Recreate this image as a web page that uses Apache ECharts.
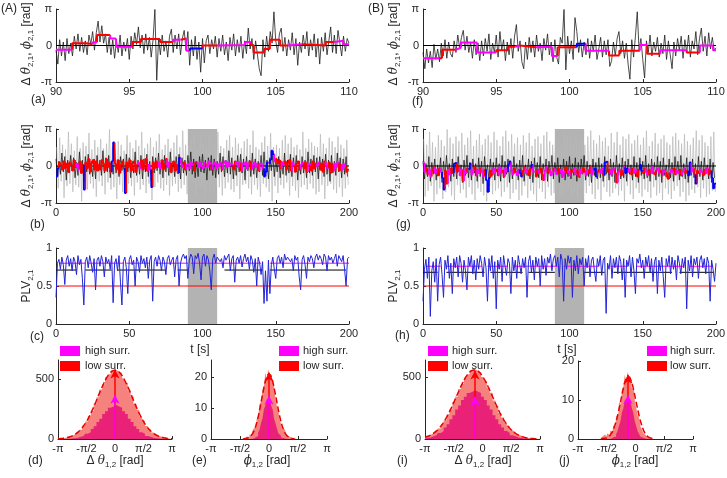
<!DOCTYPE html>
<html><head><meta charset="utf-8">
<script src="https://cdn.jsdelivr.net/npm/echarts@6/dist/echarts.min.js"></script>
<style>html,body{margin:0;padding:0;background:#fff}#c{width:727px;height:478px}</style>
</head><body><div id="c"></div>
<script>
const PI = Math.PI;
// ---------------- DATA ----------------
// (a)/(f) zoomed phase differences, samples every 0.125 s from 90 s
const zoomT0 = 90, zoomDt = 0.125;
const phaseA = [-0.4,-1.6,0.5,-0.9,0.3,-1.3,0.6,-0.7,0.2,-0.9,0.8,-0.3,1.0,-0.5,0.7,-0.6,
0.4,-0.8,0.9,0.1,1.2,-0.4,1.1,2.1,0.3,1.7,0.2,1.0,-0.6,0.7,-0.8,0.5,
-1.1,0.4,-0.6,0.9,-0.9,0.3,-0.5,0.6,-1.2,0.8,-0.3,1.1,0.1,1.6,-0.2,0.9,
-0.7,1.0,-0.4,0.7,-1.0,0.5,3.1,-3.0,0.6,-0.8,0.9,-0.5,0.4,-1.0,0.8,1.4,
-0.6,0.9,-0.3,1.0,-0.8,0.6,1.3,-0.4,1.2,-1.7,0.5,-0.9,0.8,-1.2,0.3,-2.3,
0.6,-1.5,0.4,0.9,-0.7,0.5,-0.3,0.8,-1.0,0.6,-0.5,0.9,-0.8,0.3,-1.3,0.7,
-0.4,1.0,-0.9,0.5,-0.6,0.8,-1.1,0.4,-0.7,1.5,-0.3,0.6,-1.2,0.4,-0.8,-2.0,
-2.6,0.5,-1.0,0.8,-0.5,1.2,0.2,2.9,0.4,-0.6,1.0,1.5,-0.5,0.7,-0.9,0.5,
-0.4,1.1,-0.8,0.6,-1.7,0.3,-0.6,0.9,-0.3,1.2,-0.9,0.5,-0.4,1.0,-1.0,0.6,
-1.6,0.7,-0.5,1.1,-0.8,0.4,1.6,-0.6,0.9,-0.7,1.3,0.2,-0.9,0.8,-0.5,0.6,0.2];
const phaseF = [-0.6,-2.0,-0.3,-1.5,-0.5,-1.9,0.1,-1.2,-0.3,-1.4,0.2,-0.9,0.5,-1.1,0.3,-0.7,
-1.0,0.4,-0.6,0.9,-0.2,0.7,1.3,-0.4,0.8,-0.6,0.3,-1.1,0.5,-0.8,0.2,-1.3,
0.4,-0.9,0.6,-0.5,1.0,-1.2,0.2,-0.6,0.9,-1.0,1.2,-0.4,0.5,-1.3,0.3,-0.8,
0.6,-1.1,0.8,1.8,-0.5,0.4,-1.4,-2.0,0.3,-1.2,0.7,-0.6,0.4,-1.0,0.9,-0.5,
0.2,-1.3,0.6,-0.4,1.0,-0.8,0.3,-1.4,0.5,-1.0,-1.6,0.7,0.2,3.1,-2.1,0.8,
-0.7,0.4,-1.2,2.4,1.2,-0.6,0.5,-1.0,0.3,-0.8,0.6,-1.1,0.4,-0.5,0.9,-1.2,
-0.3,0.7,-1.0,0.4,-0.8,0.5,-1.8,-1.3,0.3,-0.9,0.6,1.2,-0.7,0.4,-1.1,0.2,
-1.6,-2.9,0.5,-1.0,0.8,2.9,-0.4,0.6,-1.2,-2.8,0.4,-0.6,0.9,-0.9,0.3,-0.5,
0.7,-1.0,0.2,-0.7,0.9,-1.2,0.4,-0.8,-2.0,0.3,-0.9,0.6,-0.4,0.8,-1.1,0.5,
-0.6,0.9,-1.0,0.4,-0.3,1.2,-0.8,0.6,1.5,-0.5,0.8,-0.9,1.1,-0.3,0.7,-0.4,-0.2];
// windowed synchronisation index (a)/(f): window edges, values, kind (h=high surr., l=low surr., n=not sig.)
const winEdgesA = [90,91.1,92.1,92.5,92.8,93.7,94.1,95.2,95.8,97.1,98.0,98.5,98.9,99.15,100.0,101.0,102.9,103.3,103.5,104.2,104.6,105.3,105.8,106.8,108.4,109.0,109.6,110];
const winValsA = [-0.36,0.2,0.1,0.28,0.9,0.6,-0.1,0.3,0.55,0.3,0.5,0.6,-0.45,-0.25,0.0,0.05,0.3,0.05,-0.6,-0.3,0.5,0.0,0.1,0.0,0.3,0.4,0.1];
const winKindsA = 'hllhlhhlllhlhnlhhlllllhllhh';
const winEdgesF = [90,91.1,91.3,92.2,92.6,93.7,95.0,95.8,96.3,96.6,97.7,98.8,99.2,100.5,101.1,102.7,103.4,104.8,105.3,106.2,108.0,108.9,109.8,110];
const winValsF = [-1.1,-1.1,-0.36,-0.2,0.25,-0.6,-0.4,-0.1,0.0,-0.15,-0.1,-0.9,-0.15,0.15,-0.45,-0.85,-0.45,0.05,-0.7,-0.4,-0.6,0.0,-0.4];
const winKindsF = 'hllhhhllhlhhlnhllhlhlhh';

// (b)/(g) full recordings: 1-s samples
const fullT0 = 0, fullDt = 1;
const surrGrayB = [1.6,-1.9,2.4,-1.3,1.8,-2.7,1.4,-1.7,2.9,-1.5,1.9,-2.2,1.3,-1.6,2.5,-1.8,1.5,-3.0,2.0,-1.4,
1.7,-2.0,2.8,-1.5,1.4,-1.9,2.2,-2.6,1.6,-1.3,2.3,-1.7,1.5,-2.4,1.9,-1.4,3.1,-2.0,1.6,-1.8,
1.4,-2.8,2.1,-1.6,1.8,-2.2,1.3,-1.9,2.6,-1.5,2.0,-1.7,1.5,-2.5,2.2,-1.4,1.7,-2.0,2.9,-1.6,
1.5,-2.3,1.9,-1.5,2.4,-2.9,1.6,-1.8,2.1,-1.4,2.7,-1.9,1.4,-2.1,1.8,-1.6,2.3,-2.5,1.5,-1.7,
2.0,-1.5,2.6,-2.2,1.6,-1.9,3.0,-1.6,1.8,-2.4,1.7,-2.0,2.2,-1.4,2.8,-2.6,1.5,-1.8,2.4,-1.9,
1.9,-2.7,1.6,-1.5,2.5,-2.1,1.4,-2.3,2.0,-1.6,2.9,-1.8,1.7,-2.5,1.5,-1.9,2.2,-1.4,2.6,-2.0,
1.6,-2.2,2.4,-1.7,1.9,-2.8,1.5,-1.6,2.1,-1.5,2.3,-1.9,1.8,-2.4,3.0,-1.6,1.6,-2.0,1.4,-2.6,
2.0,-1.5,2.5,-1.8,1.7,-2.2,2.8,-3.0,1.6,-1.7,1.8,-2.3,1.5,-1.6,2.2,-1.9,2.6,-1.4,1.9,-2.5,
2.4,-1.7,1.6,-2.1,1.8,-2.7,1.4,-1.8,2.9,-1.6,1.5,-2.0,2.3,-1.5,2.0,-1.9,1.7,-2.4,1.6,-2.2,
2.7,-1.6,1.9,-2.8,1.5,-1.7,2.4,-1.5,2.1,-2.0,1.6,-2.3,2.5,-1.8,1.8,-2.6,1.5,-1.9,2.2,-1.6];
const phaseB = [0.6,-0.9,0.4,-0.7,1.1,-0.5,0.8,-1.2,0.5,-0.6,0.9,-0.4,0.7,-1.0,0.3,-0.8,1.2,-0.6,0.5,-1.3,
0.8,-0.5,1.0,-0.7,0.4,-0.9,0.6,-1.1,0.9,-0.4,0.5,-0.8,1.3,-0.6,0.7,-0.5,0.9,-1.0,0.4,-0.7,
1.1,-0.6,0.5,-0.9,0.8,-0.4,0.6,-1.2,1.0,-0.5,0.7,-1.0,0.4,-0.6,1.2,-0.8,0.5,-0.7,0.9,-1.1,
0.6,-0.5,1.0,-0.9,0.4,-1.3,0.8,-0.6,0.7,-0.4,1.1,-0.7,0.5,-1.0,0.9,-0.5,0.6,-0.8,1.2,-0.6,
0.4,-0.9,0.8,-0.5,1.0,-1.1,0.7,-0.6,0.5,-0.8,0.9,-0.4,1.2,-0.7,0.6,-1.0,0.4,-0.9,0.8,-0.5,
1.0,-0.6,0.5,-1.2,0.7,-0.4,0.9,-0.8,0.6,-1.0,0.4,-0.7,1.1,-0.5,0.8,-0.9,0.5,-0.6,1.3,-0.7,
0.7,-1.1,0.4,-0.8,0.9,-0.5,1.0,-0.6,0.6,-1.2,0.8,-0.4,0.5,-0.9,1.1,-0.7,0.6,-1.0,0.4,-0.5,
0.9,-0.8,1.2,-0.6,0.5,-1.1,0.7,-0.4,1.0,-0.9,0.6,-0.5,0.8,-1.0,0.4,-0.7,1.1,-0.8,0.5,-0.6,
1.0,-0.9,0.7,-0.5,0.9,-1.2,0.4,-0.7,0.8,-0.6,0.5,-1.0,1.2,-0.6,0.6,-0.8,0.9,-0.5,0.7,-1.1,
0.8,-0.4,0.6,-0.9,1.0,-0.7,0.5,-1.3,0.9,-0.6,0.4,-0.8,1.1,-0.5,0.7,-1.0,0.6,-0.7,0.8,-0.9];
const winValsB = [-0.9,-0.2,0.3,0.1,-0.3,0.4,-0.2,0.2,-0.5,0.3, 0.1,-0.4,0.5,-0.1,0.2,-0.3,0.4,-0.6,0.1,-2.0,
0.3,-0.2,0.6,-0.5,0.2,0.5,-0.3,0.4,-0.4,0.1, -0.3,0.5,0.2,-0.4,0.6,-0.1,0.3,-0.5,0.4,2.0,
0.2,-0.3,0.5,-0.6,0.1,0.4,-0.2,-2.3,0.3,-0.1, 0.5,-0.4,0.2,0.4,-0.5,0.1,0.3,-0.2,0.5,-0.3,
0.2,0.6,-0.4,0.1,-0.3,-1.8,0.3,-0.2,0.4,-0.1, 0.3,-0.2,0.5,-0.3,0.2,0.6,-0.1,0.3,-0.5,0.2,
0.4,-0.4,0.1,-0.6,0.7,0.2,-0.1,0.3,-0.3,0.1, 0.2,-0.2,0.3,0.1,-0.4,0.3,0.2,-0.1,0.3,0.0,
-0.2,0.3,0.1,-0.1,0.4,0.2,-0.3,0.1,0.3,-0.2, 0.2,0.0,0.3,-0.3,0.2,0.4,-0.1,0.3,0.0,0.2,
0.1,-0.3,0.4,0.2,-0.1,0.3,-0.4,0.2,0.1,0.3, -0.2,0.2,0.4,-0.3,0.1,0.3,-0.1,0.2,-0.4,0.2,
0.1,-0.2,-0.9,-0.5,0.3,0.2,0.5,1.3,1.0,0.4, 0.6,0.2,0.5,-0.2,0.3,0.1,0.4,-0.3,0.2,0.5,
-0.4,0.3,0.1,-0.5,0.2,0.4,-0.3,0.1,0.3,-0.2, 0.3,-0.5,0.2,0.1,-0.4,0.4,-0.2,0.2,0.0,0.3,
-0.3,0.2,-0.5,0.4,0.1,-0.2,0.3,-0.6,0.2,-0.4, 0.2,-0.1,0.3,-0.4,0.1,-0.3,0.2,0.0,-0.5,-0.3];
const winKindsB = 'nnllllllll'+'llllhhllln'+'llllllllll'+'llllllllnn'+'lllllllnll'+'llllllhhll'+'lllhhnllll'+'hhllllhhll'+'llllnhhllh'+'hhhhllhhhh'+
'hhlhhhlhhh'+'hhhlhhhhhh'+'hllhhhlhhh'+'hhllhhhhlh'+'hhnnnhnnnh'+'llllhhllll'+'lhhllllhhl'+'llhhllllhh'+'llllhhllll'+'hhhllhhhll';
const surrGrayG = [2.3,-2.6,1.8,-2.1,2.9,-1.7,2.0,-3.0,1.6,-2.4,2.6,-1.9,2.2,-2.8,1.7,-2.2,3.1,-1.8,2.4,-2.5,
1.9,-2.9,2.5,-1.6,2.1,-2.3,2.8,-2.0,1.8,-2.7,2.4,-1.8,3.0,-2.4,1.7,-2.9,2.2,-1.9,2.7,-2.2,
1.8,-2.5,2.3,-3.0,2.6,-1.7,2.0,-2.4,2.9,-2.1,2.2,-1.9,1.7,-2.6,2.5,-2.2,3.0,-1.8,2.1,-2.8,
2.7,-2.3,1.9,-2.0,2.4,-2.9,1.8,-2.5,2.6,-1.7,2.0,-2.7,2.8,-2.1,1.7,-2.4,2.3,-3.0,2.5,-1.9,
1.9,-2.2,2.6,-2.8,2.9,-1.8,2.1,-2.5,1.8,-2.3,2.4,-2.0,2.2,-2.7,1.7,-2.4,3.1,-2.1,2.6,-1.8,
2.8,-2.6,1.9,-2.2,2.4,-3.0,2.0,-1.9,2.7,-2.5,1.8,-2.3,2.5,-1.7,3.0,-2.4,2.2,-2.8,1.9,-2.0,
2.6,-2.9,2.1,-1.8,2.4,-2.2,1.7,-2.6,2.8,-2.3,2.0,-1.9,2.9,-2.5,1.8,-2.1,2.5,-3.0,2.3,-1.7,
2.7,-2.4,1.9,-2.8,2.2,-1.9,2.6,-2.3,1.8,-2.6,2.4,-2.0,3.0,-2.2,1.7,-2.7,2.1,-1.8,2.8,-2.5,
1.9,-2.3,2.3,-2.9,2.6,-1.9,2.0,-2.4,1.8,-2.8,2.5,-2.1,2.8,-1.7,2.2,-2.6,1.9,-2.2,2.7,-3.0,
2.1,-2.5,1.8,-2.0,2.4,-2.3,3.0,-1.8,2.2,-2.7,2.6,-1.9,2.0,-2.6,1.7,-2.4,2.5,-2.1,2.9,-2.2];
const phaseG = [0.4,-1.1,0.2,-0.9,0.8,-1.3,0.3,-0.7,0.6,-1.2,0.1,-0.8,0.7,-1.4,0.4,-1.0,0.9,-0.6,0.2,-1.3,
0.6,-0.9,0.3,-1.1,0.8,-0.7,0.1,-1.4,0.5,-0.8,0.9,-1.0,0.3,-1.2,0.6,-0.6,0.2,-1.3,0.7,-0.9,
0.4,-1.5,0.8,-0.7,0.1,-1.1,0.6,-0.9,0.3,-1.2,0.7,-0.8,0.2,-1.3,0.9,-1.0,0.4,-0.7,0.6,-1.4,
0.3,-1.1,0.8,-0.6,0.2,-1.2,0.5,-0.9,0.9,-1.3,0.1,-0.8,0.6,-1.1,0.4,-1.4,0.7,-0.7,0.3,-1.0,
0.8,-1.2,0.2,-0.9,0.6,-1.3,0.4,-0.8,0.9,-1.1,0.3,-0.7,0.7,-1.4,0.1,-1.0,0.6,-1.2,0.4,-0.9,
0.8,-1.1,0.2,-0.8,0.7,-1.3,0.3,-1.0,0.6,-0.7,0.9,-1.2,0.4,-0.9,0.1,-1.4,0.6,-0.8,0.3,-1.1,
0.7,-1.0,0.2,-1.3,0.8,-0.7,0.4,-1.2,0.6,-0.9,0.3,-1.4,0.9,-0.8,0.2,-1.1,0.7,-1.0,0.4,-1.3,
0.6,-0.7,0.1,-1.2,0.8,-0.9,0.3,-1.4,0.7,-0.8,0.4,-1.1,0.9,-1.0,0.2,-1.3,0.6,-0.7,0.3,-1.2,
0.8,-0.9,0.4,-1.4,0.7,-0.8,0.1,-1.1,0.6,-1.0,0.3,-1.3,0.8,-0.7,0.4,-1.2,0.9,-0.9,0.2,-1.1,
0.7,-1.4,0.3,-0.8,0.6,-1.0,0.2,-1.3,0.8,-0.9,0.4,-1.2,0.7,-0.7,0.1,-1.1,0.6,-1.4,0.3,-1.0];
const winValsG = [0.3,-0.5,-0.2,-0.7,-0.3,-0.9,-0.4,-0.1,-0.6,-0.3, -0.8,-0.2,-0.5,-1.0,-2.0,-0.4,-1.5,-0.3,-0.7,-0.2,
-0.6,0.2,0.3,-0.5,-0.1,-0.8,-0.3,-1.3,-0.4,-0.6, -0.2,-0.3,0.2,-0.7,-0.4,-0.1,-0.8,-0.3,-0.6,-0.2,
-0.5,-0.9,-0.3,-1.2,-2.2,-1.0,-0.4,-0.7,-0.2,-0.5, -0.3,-0.8,-0.1,-0.6,-0.4,-0.9,-0.2,-0.5,0.1,0.4,
-0.3,-0.7,-0.2,-0.5,-0.8,-0.3,-0.6,-0.9,-0.4,-0.1, -0.6,-0.3,-0.8,-0.2,0.1,-0.5,-0.4,-0.9,-0.3,-0.6,
-0.2,-0.7,-1.2,-0.4,-0.1,-0.6,-0.3,-0.8,-0.5,-0.2, -0.4,-0.7,-0.2,-0.6,-0.3,-0.9,-0.5,-0.1,-0.6,-0.4,
-0.8,-0.3,-0.5,-0.2,-0.7,-0.4,-0.9,-0.3,-0.6,-0.2, -0.5,-0.8,-0.3,-0.6,-0.1,-0.7,-0.4,-0.2,-0.9,-0.5,
-0.3,-0.6,-0.2,-0.8,0.3,0.4,-0.5,-0.3,-0.7,-0.4, -0.2,-0.6,-1.4,-0.5,-0.3,-0.8,-0.4,-0.1,-0.6,-0.2,
-0.5,-0.3,-0.7,-0.2,-0.6,-0.4,-0.9,-0.3,0.1,-0.4, -0.6,-0.2,-0.5,-0.8,-0.3,-0.6,-0.1,-0.5,-0.7,-0.4,
-0.2,-0.6,-0.4,-0.8,-0.3,-0.5,-0.9,-1.1,-0.6,-0.3, -0.5,-0.2,-0.7,-0.4,-0.6,-0.3,-0.8,-0.5,-0.2,-0.6,
-0.4,-0.8,0.3,-0.5,-0.2,-0.7,-1.5,-0.4,-0.6,-0.3, -0.5,-0.8,-0.3,-0.6,-0.2,-0.7,-0.4,-1.0,-1.9,-1.5];
const winKindsG = 'hhllhhllhh'+'llhnnllhhl'+'lnnllhhlhh'+'lnnhhllhhl'+'hhlnnnllhh'+'llhhllhhnn'+'hhllhhnnll'+'hhllnhhllh'+'lllhhllhhl'+'hhllhhhllh'+
'hllhhllhhl'+'lhhllhhnnl'+'lhhlnnllhh'+'hllhhllhnn'+'hhllhhllnn'+'llhhllhhll'+'hhllhhlllh'+'hllhhllhhl'+'lnnhhlnllh'+'hllhhllnnn';

// (c)/(h) PLV, 1-s samples 0..200
const plvC = [0.35,0.80,0.85,0.72,0.88,0.78,0.52,0.84,0.90,0.76,0.86,0.70,0.88,0.82,0.65,0.90,0.78,0.85,0.60,0.25,
0.82,0.88,0.74,0.90,0.80,0.68,0.86,0.45,0.84,0.88,0.76,0.90,0.82,0.62,0.88,0.80,0.85,0.72,0.90,0.28,
0.80,0.86,0.70,0.90,0.55,0.25,0.82,0.88,0.74,0.40,0.85,0.90,0.78,0.84,0.50,0.88,0.82,0.68,0.90,0.80,
0.86,0.74,0.88,0.60,0.84,0.90,0.30,0.82,0.88,0.76,0.90,0.84,0.70,0.88,0.82,0.65,0.86,0.90,0.78,0.84,
0.88,0.62,0.85,0.90,0.50,0.80,0.88,0.92,0.86,0.90,0.60,0.84,0.92,0.88,0.66,0.90,0.86,0.93,0.80,0.58,
0.88,0.92,0.76,0.90,0.85,0.70,0.45,0.86,0.92,0.80,0.88,0.90,0.82,0.86,0.74,0.90,0.84,0.88,0.92,0.70,
0.86,0.90,0.55,0.84,0.88,0.80,0.90,0.75,0.86,0.92,0.82,0.88,0.72,0.90,0.84,0.68,0.86,0.50,0.88,0.80,
0.65,0.82,0.27,0.70,0.30,0.84,0.40,0.78,0.88,0.72,0.60,0.86,0.90,0.80,0.88,0.74,0.92,0.84,0.88,0.90,
0.82,0.86,0.70,0.90,0.84,0.88,0.62,0.45,0.85,0.90,0.78,0.60,0.88,0.82,0.90,0.86,0.74,0.88,0.92,0.84,
0.90,0.86,0.78,0.92,0.88,0.70,0.90,0.84,0.88,0.80,0.86,0.92,0.76,0.90,0.88,0.82,0.90,0.72,0.50,0.86,0.88];
const plvH = [0.30,0.72,0.85,0.60,0.88,0.10,0.70,0.82,0.55,0.86,0.30,0.78,0.88,0.65,0.35,0.84,0.72,0.90,0.60,0.80,
0.40,0.86,0.74,0.88,0.62,0.90,0.80,0.55,0.84,0.70,0.45,0.88,0.76,0.90,0.66,0.84,0.58,0.86,0.72,0.90,
0.80,0.62,0.88,0.74,0.30,0.86,0.70,0.90,0.60,0.82,0.20,0.84,0.72,0.88,0.56,0.90,0.76,0.64,0.86,0.80,
0.40,0.88,0.70,0.84,0.60,0.90,0.78,0.66,0.86,0.74,0.88,0.35,0.82,0.90,0.68,0.84,0.58,0.88,0.76,0.86,
0.50,0.90,0.72,0.86,0.64,0.88,0.80,0.92,0.70,0.86,0.90,0.76,0.88,0.62,0.92,0.84,0.30,0.86,0.72,0.90,
0.80,0.88,0.35,0.84,0.70,0.90,0.66,0.86,0.78,0.88,0.50,0.86,0.74,0.90,0.62,0.84,0.88,0.70,0.56,0.86,
0.76,0.90,0.64,0.84,0.88,0.14,0.80,0.72,0.90,0.60,0.86,0.74,0.88,0.66,0.90,0.82,0.58,0.86,0.35,0.84,
0.76,0.90,0.62,0.88,0.70,0.40,0.86,0.80,0.92,0.74,0.84,0.60,0.88,0.76,0.90,0.68,0.86,0.56,0.82,0.88,
0.40,0.84,0.70,0.88,0.62,0.35,0.86,0.76,0.90,0.66,0.88,0.72,0.84,0.58,0.90,0.80,0.66,0.86,0.74,0.88,
0.20,0.84,0.70,0.90,0.62,0.86,0.78,0.88,0.60,0.84,0.90,0.74,0.86,0.66,0.88,0.80,0.30,0.84,0.72,0.56,0.80];
const plvLowThr = 0.5;
const plvHighThrC = 0.80, plvMidThrC = 0.71;
const plvHighThrH = 0.76, plvMidThrH = 0.68;
const highSegsC = [[2,20],[22,46],[48,64],[68,90],[92,140],[146,200]];
const midSegsC = [[0,14],[20,38],[42,75],[83,90],[115,141],[146,198]];
const highSegsH = [[2,12],[16,40],[44,58],[62,92],[96,120],[128,140],[146,178],[182,198]];
const midSegsH = [[0,10],[16,42],[46,68],[72,90],[110,124],[130,170],[175,198]];
const shadeSpan = [90, 110];

// histograms: wide bins (d,i) centres from -pi step pi/20; narrow bins (e) from -18pi/40, (j) from -24pi/40, step pi/40
const histLowD = [3,5,6,12,17,28,37,57,78,113,146,193,237,296,349,414,458,515,541,572,576,566,552,508,468,405,356,292,245,189,153,109,84,55,41,25,19,10,8,4,3];
const histHighD = [0,0,1,1,2,4,6,10,18,26,43,57,83,106,143,170,209,232,262,272,284,271,262,231,209,170,143,106,83,57,43,26,18,10,6,4,2,1,1,0,0];
const fitD = [2,4,7,11,17,26,39,57,80,110,146,190,240,294,352,409,462,509,544,567,575,567,544,509,462,409,352,294,240,190,146,110,80,57,39,26,17,11,7,4,2];
const histLowE = [0.2,0.4,0.3,0.8,0.6,1.5,1.2,2.6,3.4,3.8,6.5,7.4,11.2,12.1,16.0,17.2,21.5,19.2,22.5,20.1,21.0,18.3,17.0,12.8,10.5,9.0,5.8,4.6,2.9,3.2,1.6,1.1,0.7,0.9,0.3,0.4,0.1];
const histHighE = [0,0,0,0,0,0,0,0.2,0.3,0.6,1.0,2.1,3.0,5.2,6.6,9.6,10.8,12.9,12.6,13.4,10.7,9.5,6.5,5.1,3.3,1.8,1.2,0.4,0.3,0.1,0,0,0,0,0,0,0];
const fitE = [0,0.1,0.15,0.3,0.5,0.8,1.3,2.0,3.0,4.4,6.1,8.2,10.5,13.0,15.4,17.7,19.4,20.6,21,20.6,19.4,17.7,15.4,13.0,10.5,8.2,6.1,4.4,3.0,2.0,1.3,0.8,0.5,0.3,0.15,0.1,0];
const histLowI = [12,20,35,44,68,86,122,151,201,240,299,345,405,446,498,524,556,566,550,541,503,472,416,374,312,268,210,174,130,103,70,55,36,27,15,12,6,5,3,2,1];
const histHighI = [5,9,12,22,31,49,65,94,120,159,193,238,272,315,342,373,383,394,382,372,342,315,272,238,192,159,120,94,65,49,30,22,12,9,5,3,2,1,1,0,0];
const fitI = [15,22,32,47,65,89,119,155,197,244,295,349,401,450,494,528,550,560,556,538,508,469,421,370,317,264,215,171,133,100,74,53,38,26,17,11,7,4.5,3,2,1];
const histLowJ = [0.3,0.8,0.4,1.2,0.6,1.5,1.0,2.2,1.8,3.5,3.0,5.8,6.2,9.4,9.0,12.6,13.2,16.4,15.0,17.2,15.5,16.1,13.0,12.8,9.8,8.0,6.1,5.5,3.2,2.5,1.4,1.0,0.5,0.3,0.2,0.1,0];
const histHighJ = [0,0,0,0,0,0,0,0.1,0.2,0.5,0.6,1.3,2.0,3.4,4.5,6.7,7.8,9.9,10.4,11.2,10.3,9.7,7.9,6.6,4.6,3.3,2.0,1.3,0.6,0.4,0.2,0.1,0,0,0,0,0];
const fitJ = [0,0.1,0.1,0.2,0.3,0.5,0.8,1.3,1.9,2.8,3.9,5.2,6.8,8.5,10.3,12.1,13.7,14.9,15.7,16,15.7,14.9,13.7,12.1,10.3,8.5,6.8,5.2,3.9,2.8,1.9,1.3,0.8,0.5,0.3,0.2,0.1];
const binsWide = {start: -PI, step: PI/20};
const binsE = {start: -18*PI/40, step: PI/40};
const binsJ = {start: -24*PI/40, step: PI/40};
// mean-direction arrows: [angle, length low surr., length high surr.]
const arrowD = [0, 580, 370], arrowE = [0, 21.5, 14], arrowI = [-0.41, 555, 343], arrowJ = [-0.41, 16.5, 11.3];
// tick values
const zoomTicks = [90,95,100,105,110];
const fullTicks = [0,50,100,150,200];
const phaseTicks = [-PI, 0, PI];
const plvTicks = [0, 0.5, 1];
const angleTicks = [-PI, -PI/2, 0, PI/2, PI];

// ---------------- BUILD ----------------
const FONT = '"Liberation Sans", Arial, Helvetica, sans-serif';
const AX = '#262626';
const C_HIGH = '#ff00ff', C_LOW = '#ff0000', C_NS = '#0000ff';
const KIND_COLOR = {h: C_HIGH, l: C_LOW, n: C_NS};
const grids = [], xAxes = [], yAxes = [], series = [], graphics = [];

const piFmt = v => Math.abs(v) < 1e-9 ? '0' : (v > 0 ? 'π' : '-π');
const angFmt = v => ['-π','-π/2','0','π/2','π'][Math.round(v/(PI/2)) + 2];
const numFmt = v => String(v);

function panel(box, xr, xticks, xfmt, yr, yticks, yfmt) {
  const gi = grids.length;
  grids.push({left: box[0], top: box[1], width: box[2], height: box[3], containLabel: false, outerBoundsMode: 'none'});
  const common = (ticks, fmt) => ({
    axisLine: {show: true, onZero: false, lineStyle: {color: AX, width: 1}},
    axisTick: {show: true, inside: true, length: 3, customValues: ticks, lineStyle: {color: AX}},
    axisLabel: {customValues: ticks, formatter: fmt, margin: 4, color: AX, fontSize: 11, fontFamily: FONT},
    splitLine: {show: false}
  });
  xAxes.push(Object.assign({type: 'value', gridIndex: gi, min: xr[0], max: xr[1], position: 'bottom'}, common(xticks, xfmt)));
  yAxes.push(Object.assign({type: 'value', gridIndex: gi, min: yr[0], max: yr[1], position: 'left'}, common(yticks, yfmt)));
  return gi;
}
function line(gi, data, color, width, z, extra) {
  series.push(Object.assign({type: 'line', xAxisIndex: gi, yAxisIndex: gi, data, symbol: 'none', showSymbol: false,
    silent: true, animation: false, z, connectNulls: false, lineStyle: {color, width}, itemStyle: {color}}, extra || {}));
}
const samples = (t0, dt, vals) => vals.map((v, i) => [t0 + i*dt, v]);
function stepData(edges, vals, kinds, kind) {
  const d = [];
  for (let i = 0; i < vals.length; i++) {
    if (kinds[i] !== kind) continue;
    if (i > 0) d.push([edges[i], vals[i-1]]);
    d.push([edges[i], vals[i]], [edges[i+1], vals[i]], [edges[i+1], null]);
  }
  return d;
}
function stepLines(gi, edges, vals, kinds, width) {
  ['l', 'h', 'n'].forEach((k, j) => line(gi, stepData(edges, vals, kinds, k), KIND_COLOR[k], width, 6 + j));
}
const segData = (segs, v) => segs.flatMap(s => [[s[0], v], [s[1], v], [s[1], null]]);
function shade(gi) {
  line(gi, [[shadeSpan[0], 0]], 'rgba(0,0,0,0)', 0, 1, {markArea: {silent: true, itemStyle: {color: '#b3b3b3', opacity: 1},
    data: [[{xAxis: shadeSpan[0]}, {xAxis: shadeSpan[1]}]]}});
}
function hist(gi, bins, low, high, fit, arrow) {
  const toXY = arr => arr.map((v, i) => [bins.start + i*bins.step, v]);
  line(gi, toXY(low), '#f6827e', 0, 2, {step: 'middle', areaStyle: {color: '#f6827e', opacity: 1}});
  line(gi, toXY(high), '#ea2277', 0, 3, {step: 'middle', areaStyle: {color: '#ea2277', opacity: 1}});
  line(gi, toXY(fit), '#e60000', 1.5, 4, {smooth: true, lineStyle: {color: '#e60000', width: 1.5, type: [6, 3]}});
  const arrowLine = (len, color, z) => line(gi, [[arrow[0], 0]], 'rgba(0,0,0,0)', 0, z, {markLine: {silent: true,
    symbol: ['none', 'arrow'], symbolSize: [7, 9], label: {show: false}, animation: false,
    lineStyle: {color, width: 1.5, type: 'solid'}, data: [[{coord: [arrow[0], 0]}, {coord: [arrow[0], len]}]]}});
  arrowLine(arrow[1], C_LOW, 5);
  arrowLine(arrow[2], C_HIGH, 6);
}
function zoomPanel(box, phase, edges, vals, kinds) {
  const gi = panel(box, [zoomTicks[0], zoomTicks[4]], zoomTicks, numFmt, [-PI, PI], phaseTicks, piFmt);
  line(gi, samples(zoomT0, zoomDt, phase), '#1e1e1e', 0.8, 2);
  line(gi, [[zoomTicks[0], 0], [zoomTicks[4], 0]], '#000', 1, 4);
  stepLines(gi, edges, vals, kinds, 2);
}
function fullPanel(box, gray, phase, vals, kinds) {
  const gi = panel(box, [fullTicks[0], fullTicks[4]], fullTicks, numFmt, [-PI, PI], phaseTicks, piFmt);
  shade(gi);
  line(gi, samples(fullT0 + fullDt/2, fullDt, gray), '#b8b8b8', 0.7, 2);
  line(gi, samples(fullT0, fullDt, phase), 'rgba(25,25,25,0.85)', 0.9, 3);
  line(gi, [[fullTicks[0], 0], [fullTicks[4], 0]], '#000', 1, 4);
  const edges = vals.map((_, i) => fullT0 + i*fullDt).concat([fullT0 + vals.length*fullDt]);
  stepLines(gi, edges, vals, kinds, 1.8);
}
function plvPanel(box, plv, hiThr, midThr, hiSegs, midSegs) {
  const gi = panel(box, [fullTicks[0], fullTicks[4]], fullTicks, numFmt, [0, 1], plvTicks, numFmt);
  shade(gi);
  line(gi, [[fullTicks[0], plvLowThr], [fullTicks[4], plvLowThr]], C_LOW, 1, 3);
  line(gi, segData(midSegs, midThr), '#000', 1, 3);
  line(gi, segData(hiSegs, hiThr), C_HIGH, 1, 3);
  line(gi, samples(fullT0, fullDt, plv), '#2424d8', 1, 5);
}

// left column (A)
zoomPanel([56, 9, 293, 73], phaseA, winEdgesA, winValsA, winKindsA);
fullPanel([56, 129, 293, 74], surrGrayB, phaseB, winValsB, winKindsB);
plvPanel([56, 248, 293, 76], plvC, plvHighThrC, plvMidThrC, highSegsC, midSegsC);
let gi = panel([58, 360, 114, 79], [-PI, PI], angleTicks, angFmt, [0, 660], [0, 500], numFmt);
hist(gi, binsWide, histLowD, histHighD, fitD, arrowD);
gi = panel([211, 360, 116, 79], [-PI, PI], angleTicks, angFmt, [0, 25.5], [0, 10, 20], numFmt);
hist(gi, binsE, histLowE, histHighE, fitE, arrowE);
// right column (B)
zoomPanel([423, 9, 293, 73], phaseF, winEdgesF, winValsF, winKindsF);
fullPanel([423, 129, 293, 74], surrGrayG, phaseG, winValsG, winKindsG);
plvPanel([423, 248, 293, 76], plvH, plvHighThrH, plvMidThrH, highSegsH, midSegsH);
gi = panel([425, 360, 115, 79], [-PI, PI], angleTicks, angFmt, [0, 640], [0, 500], numFmt);
hist(gi, binsWide, histLowI, histHighI, fitI, arrowI);
gi = panel([578, 361, 115, 78], [-PI, PI], angleTicks, angFmt, [0, 20], [0, 10, 20], numFmt);
hist(gi, binsJ, histLowJ, histHighJ, fitJ, arrowJ);

// ---------------- TEXT ----------------
const RICH = {
  n: {fontSize: 12, fontFamily: FONT, fill: AX},
  i: {fontSize: 12, fontFamily: '"DejaVu Serif", serif', fontStyle: 'italic', fill: AX},
  s: {fontSize: 8, fontFamily: FONT, fill: AX, padding: [7, 0, 0, 0]}
};
function txt(x, y, text, opts) {
  graphics.push(Object.assign({type: 'text', x, y, silent: true, style: Object.assign({text, fill: AX, fontSize: 12,
    fontFamily: FONT, align: 'left', verticalAlign: 'middle', rich: RICH}, (opts && opts.style) || {})}, (opts && opts.el) || {}));
}
const rot = {el: {rotation: PI/2}, style: {align: 'center'}};
const ctr = {style: {align: 'center'}};
const phaseLabel = '{n|Δ }{i|θ}{s|2,1}{n|, }{i|ϕ}{s|2,1}{n| [rad]}';
const plvLabel = '{n|PLV}{s|2,1}';
[[0, 'A'], [367, 'B']].forEach(([dx, P]) => {
  txt(1 + dx, 9, '(' + P + ')');
  txt(27 + dx, 44, phaseLabel, rot);
  txt(27 + dx, 166, phaseLabel, rot);
  txt(27 + dx, 286, plvLabel, rot);
});
txt(31, 100, '(a)'); txt(30, 225, '(b)'); txt(30, 337, '(c)');
txt(412, 102, '(f)'); txt(396, 225, '(g)'); txt(395, 336, '(h)');
txt(200, 350, 't [s]', ctr); txt(567, 350, 't [s]', ctr);
txt(28, 461, '(d)'); txt(115, 461, '{n|Δ }{i|θ}{s|1,2}{n| [rad]}', ctr);
txt(192, 461, '(e)'); txt(267, 461, '{i|ϕ}{s|1,2}{n| [rad]}', ctr);
txt(397, 461, '(i)'); txt(483, 461, '{n|Δ }{i|θ}{s|1,2}{n| [rad]}', ctr);
txt(559, 461, '(j)'); txt(635, 461, '{i|ϕ}{s|1,2}{n| [rad]}', ctr);
// legends
[[60, 85], [279, 303], [428, 452], [647, 670]].forEach(([rx, tx]) => {
  graphics.push({type: 'rect', silent: true, shape: {x: rx, y: 346, width: 20, height: 10}, style: {fill: C_HIGH}});
  graphics.push({type: 'rect', silent: true, shape: {x: rx, y: 361, width: 20, height: 10}, style: {fill: C_LOW}});
  txt(tx, 351, 'high surr.', {style: {fontSize: 11}});
  txt(tx, 366, 'low surr.', {style: {fontSize: 11}});
});

const chart = echarts.init(document.getElementById('c'), null, {renderer: 'canvas'});
chart.setOption({animation: false, backgroundColor: '#fff', grid: grids, xAxis: xAxes, yAxis: yAxes, series, graphic: graphics});
</script></body></html>
